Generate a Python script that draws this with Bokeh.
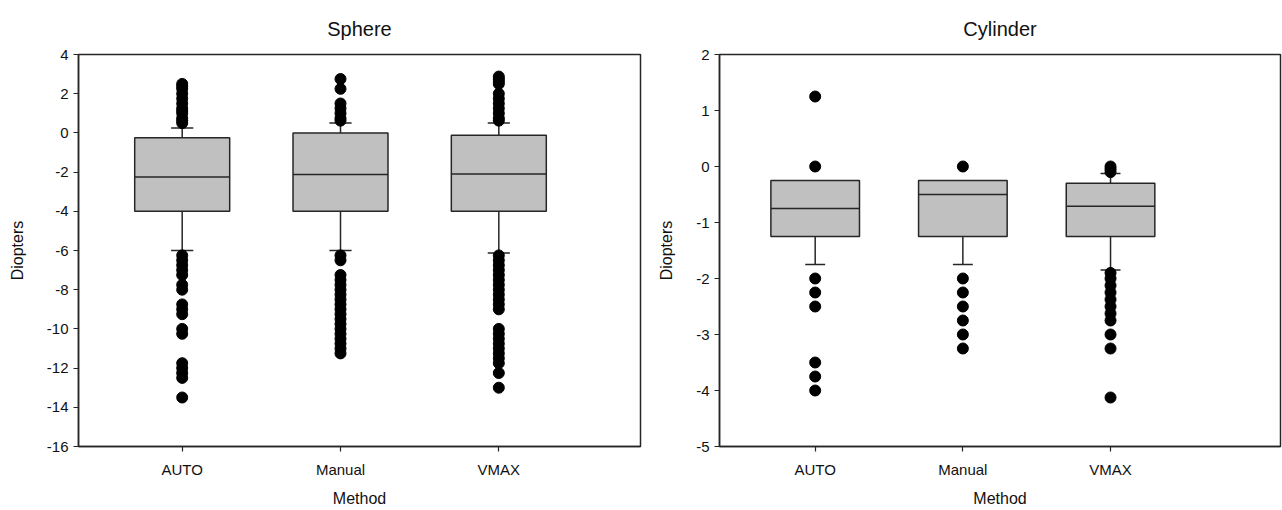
from bokeh.plotting import figure
from bokeh.layouts import row
from bokeh.models import FixedTicker, Range1d
from bokeh.embed import file_html
from bokeh.resources import INLINE

# ---------------- data ----------------
methods = ["AUTO", "Manual", "VMAX"]
positions = [1, 2, 3]

# Sphere
sph_q1 = [-4.0, -4.0, -4.0]
sph_med = [-2.25, -2.125, -2.1]
sph_q3 = [-0.25, 0.0, -0.125]
sph_wlo = [-6.0, -6.0, -6.125]
sph_whi = [0.25, 0.5, 0.5]
sph_out_auto = [0.5, 0.625, 0.75, 1.0, 1.125, 1.25, 1.5, 1.75, 2.0, 2.25, 2.375, 2.5,
                -6.25, -6.5, -6.75, -7.0, -7.25, -7.75, -8.0, -8.75, -9.0, -9.25,
                -10.0, -10.25, -11.75, -12.0, -12.25, -12.5, -13.5]
sph_out_manual = [0.625, 0.75, 1.0, 1.25, 1.5, 2.25, 2.75,
                  -6.25, -6.5, -7.25, -7.5, -7.75, -8.0, -8.25, -8.5, -8.75, -9.0,
                  -9.25, -9.5, -9.75, -10.0, -10.25, -10.5, -10.75, -11.0, -11.25]
sph_out_vmax = [0.625, 0.75, 1.0, 1.25, 1.5, 1.75, 2.0, 2.5, 2.625, 2.75, 2.875,
                -6.25, -6.5, -6.75, -7.0, -7.25, -7.5, -7.75, -8.0, -8.25, -8.5,
                -8.75, -9.0, -10.0, -10.25, -10.5, -10.75, -11.0, -11.25, -11.5,
                -11.75, -12.25, -13.0]

# Cylinder
cyl_q1 = [-1.25, -1.25, -1.25]
cyl_med = [-0.75, -0.5, -0.71]
cyl_q3 = [-0.25, -0.25, -0.3]
cyl_wlo = [-1.75, -1.75, -1.85]
cyl_whi = [-0.25, -0.25, -0.125]
cyl_out_auto = [1.25, 0.0, -2.0, -2.25, -2.5, -3.5, -3.75, -4.0]
cyl_out_manual = [0.0, -2.0, -2.25, -2.5, -2.75, -3.0, -3.25]
cyl_out_vmax = [0.0, -0.05, -0.1, -1.9, -2.0, -2.125, -2.25, -2.375, -2.5, -2.625,
                -2.75, -3.0, -3.25, -4.125]

sph_ticks = [4, 2, 0, -2, -4, -6, -8, -10, -12, -14, -16]
cyl_ticks = [2, 1, 0, -1, -2, -3, -4, -5]

FONT = "Liberation Sans"
BOX_FILL = "#c0c0c0"
LINE = "#262626"


def make_panel(title, q1, med, q3, wlo, whi, outs, yr, yticks, xr, cap_w,
               width, left, right):
    p = figure(width=width, height=510, output_backend="svg", toolbar_location=None,
               x_range=Range1d(*xr), y_range=Range1d(*yr),
               min_border_left=left, min_border_right=right,
               min_border_top=54, min_border_bottom=64)
    p.title.text = title
    p.title.align = "center"
    p.title.text_font = FONT
    p.title.text_font_size = "20px"
    p.title.text_font_style = "normal"
    p.title.text_color = "#111111"
    p.title.standoff = 30
    p.xgrid.visible = False
    p.ygrid.visible = False
    p.outline_line_color = LINE
    p.outline_line_width = 1.5
    p.background_fill_color = "white"
    p.border_fill_color = "white"

    # whiskers
    p.segment(x0=positions, y0=q1, x1=positions, y1=wlo, line_color=LINE, line_width=1.5)
    p.segment(x0=positions, y0=q3, x1=positions, y1=whi, line_color=LINE, line_width=1.5)
    # caps (only where whisker extends beyond box)
    lo_x = [x for x, a, b in zip(positions, q1, wlo) if a != b]
    lo_y = [b for a, b in zip(q1, wlo) if a != b]
    hi_x = [x for x, a, b in zip(positions, q3, whi) if a != b]
    hi_y = [b for a, b in zip(q3, whi) if a != b]
    p.segment(x0=[x - cap_w / 2 for x in lo_x], y0=lo_y, x1=[x + cap_w / 2 for x in lo_x],
              y1=lo_y, line_color=LINE, line_width=1.5)
    p.segment(x0=[x - cap_w / 2 for x in hi_x], y0=hi_y, x1=[x + cap_w / 2 for x in hi_x],
              y1=hi_y, line_color=LINE, line_width=1.5)
    # boxes
    p.vbar(x=positions, width=0.6, bottom=q1, top=q3, fill_color=BOX_FILL,
           line_color=LINE, line_width=1.5)
    # medians
    p.segment(x0=[x - 0.3 for x in positions], y0=med, x1=[x + 0.3 for x in positions],
              y1=med, line_color=LINE, line_width=1.5)
    # outliers
    ox, oy = [], []
    for x, vals in zip(positions, outs):
        ox += [x] * len(vals)
        oy += vals
    p.scatter(x=ox, y=oy, size=11, fill_color="black", line_color="black")

    # axes
    p.xaxis.ticker = FixedTicker(ticks=positions)
    p.xaxis.major_label_overrides = {x: m for x, m in zip(positions, methods)}
    p.yaxis.ticker = FixedTicker(ticks=yticks)
    p.yaxis.major_label_overrides = {t: str(t) for t in yticks}
    for ax in (p.xaxis[0], p.yaxis[0]):
        ax.axis_line_color = LINE
        ax.axis_line_width = 1.5
        ax.major_tick_line_color = LINE
        ax.major_tick_line_width = 1.2
        ax.major_tick_in = 0
        ax.major_tick_out = 5
        ax.minor_tick_line_color = None
        ax.major_label_text_font = FONT
        ax.major_label_text_font_size = "15px"
        ax.major_label_text_color = "#111111"
        ax.axis_label_text_font = FONT
        ax.axis_label_text_font_size = "16px"
        ax.axis_label_text_font_style = "normal"
        ax.axis_label_text_color = "#111111"
    p.xaxis.axis_label = "Method"
    p.yaxis.axis_label = "Diopters"
    p.xaxis.major_label_standoff = 9
    p.xaxis.axis_label_standoff = 9
    p.yaxis.major_label_standoff = 5
    p.yaxis.axis_label_standoff = 18
    return p


p1 = make_panel("Sphere", sph_q1, sph_med, sph_q3, sph_wlo, sph_whi,
                [sph_out_auto, sph_out_manual, sph_out_vmax],
                (-16, 4), sph_ticks, (0.345, 3.895), 0.14, 652, 78, 12)
p2 = make_panel("Cylinder", cyl_q1, cyl_med, cyl_q3, cyl_wlo, cyl_whi,
                [cyl_out_auto, cyl_out_manual, cyl_out_vmax],
                (-5, 2), cyl_ticks, (0.352, 4.151), 0.135, 630, 67, 2)

layout = row(p1, p2)
open("out.html", "w").write(file_html(layout, INLINE))
